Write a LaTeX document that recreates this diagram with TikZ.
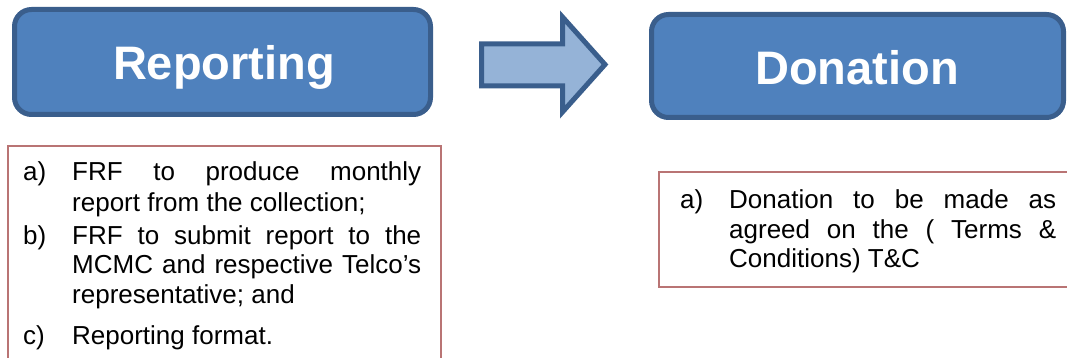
\documentclass[tikz,border=0pt]{standalone}
\usepackage{fontspec}
\setmainfont{Liberation Sans}
\definecolor{boxfill}{HTML}{4F81BD}
\definecolor{boxline}{HTML}{3A5E8C}
\definecolor{arrowfill}{HTML}{95B3D7}
\definecolor{noteline}{HTML}{B97474}
\tikzset{
  titlebox/.style={draw=boxline, fill=boxfill, line width=5pt, rounded corners=17pt},
  titletext/.style={anchor=base, inner sep=0pt, text=white, font=\fontsize{47}{56}\selectfont\bfseries},
  notebox/.style={draw=noteline, line width=1.5pt},
  bodytext/.style={anchor=base west, inner sep=0pt, font=\fontsize{26}{30}\selectfont},
}
\newcommand{\fullline}[2]{\makebox[#1pt][s]{#2}}
\begin{document}
\begin{tikzpicture}[x=1pt,y=-1pt]
\useasboundingbox (0,0) rectangle (1067,358);
% title boxes
\draw[titlebox] (14.5,9.5) rectangle (430.5,114.5);
\node[titletext] (rep) at (224,80) {Reporting};
\draw[titlebox] (651.5,14.5) rectangle (1063.5,117.5);
\node[titletext] (don) at (857,85) {Donation};
% block arrow
\draw[draw=boxline, fill=arrowfill, line width=5pt, miter limit=10]
  (481.5,44) -- (562.5,44) -- (562.5,17) -- (605,64.5) -- (562.5,112)
  -- (562.5,86) -- (481.5,86) -- cycle;
% note boxes
\draw[notebox] (8,370) -- (8,146) -- (441,146) -- (441,370);
\draw[notebox] (1080,172) -- (659,172) -- (659,287) -- (1080,287);
% left text
\node[bodytext] (la) at (23,181) {a)};
\node[bodytext] (la1) at (72,181) {\fullline{349}{FRF to produce monthly}};
\node[bodytext] (la2) at (72,211) {report from the collection;};
\node[bodytext] (lb) at (23,244) {b)};
\node[bodytext] (lb1) at (72,244) {\fullline{349}{FRF to submit report to the}};
\node[bodytext] (lb2) at (72,273) {\fullline{349}{MCMC and respective Telco’s}};
\node[bodytext] (lb3) at (72,303) {representative; and};
\node[bodytext] (lc) at (23,344) {c)};
\node[bodytext] (lc1) at (72,344) {Reporting format.};
% right text
\node[bodytext] (ra) at (680,208) {a)};
\node[bodytext] (ra1) at (729,208) {\fullline{327}{Donation to be made as}};
\node[bodytext] (ra2) at (729,238) {\fullline{327}{agreed on the ( Terms \&}};
\node[bodytext] (ra3) at (729,267) {Conditions) T\&C};
\end{tikzpicture}
\end{document}
